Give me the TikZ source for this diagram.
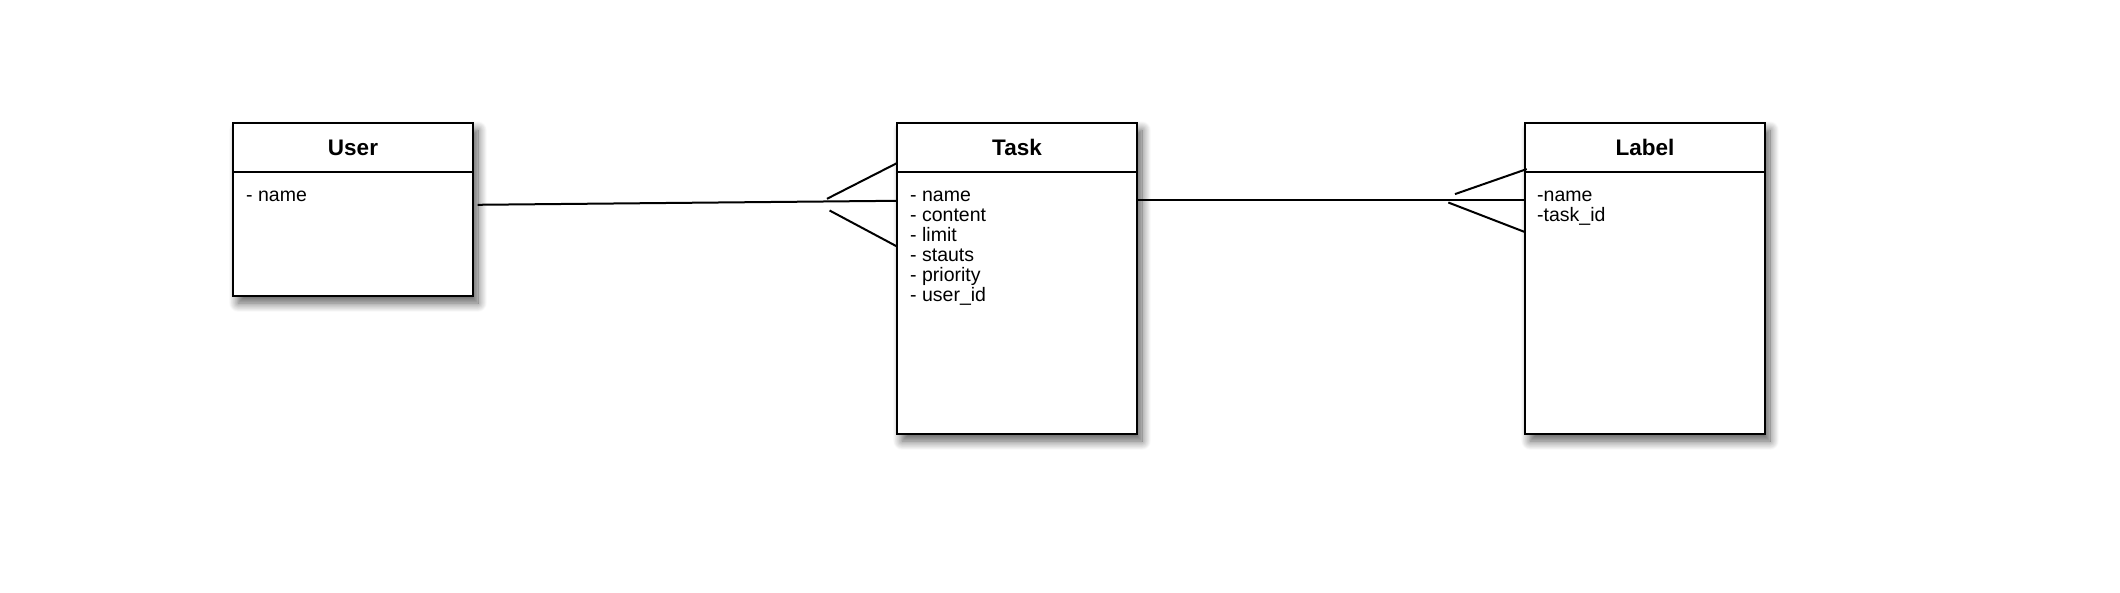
\documentclass[tikz,border=0pt]{standalone}
\usepackage{fontspec}
\setmainfont{Liberation Sans}
\usetikzlibrary{positioning, shadows.blur}

\tikzset{
    entity/.style={draw, line width=2pt, fill=white, minimum width=240pt, inner sep=0pt, outer sep=0pt,
        blur shadow={shadow xshift=5pt, shadow yshift=-7pt, shadow blur radius=9pt, shadow blur steps=14, shadow opacity=65}},
    head/.style={minimum width=240pt, minimum height=49pt, inner sep=0pt, outer sep=0pt,
        font=\fontsize{22.5}{27}\selectfont\bfseries},
    attr/.style={anchor=base west, inner sep=0pt, font=\fontsize{19.5}{20}\selectfont},
    rel/.style={line width=2pt},
}

\begin{document}
\begin{tikzpicture}[x=1pt, y=1pt]
    \useasboundingbox (0,0) rectangle (2120,592);
    \node[entity, minimum height=173pt] (user) at (353,382.4) {};
    \node[entity, minimum height=311pt, right=424pt of user.north east, anchor=north west] (task) {};
    \node[entity, minimum height=311pt, right=388pt of task.north east, anchor=north west] (label) {};
    \node[head, below=0pt of user.north] (user-head) {User};
    \node[head, below=0pt of task.north] (task-head) {Task};
    \node[head, below=0pt of label.north] (label-head) {Label};
    \foreach \e in {user, task, label}
        \draw[line width=2pt] (\e-head.south west) -- (\e-head.south east);
    \foreach \a [count=\i] in {- name}
        \node[attr] (user-a\i) at ([shift={(13,-29.4-20*(\i-1))}]user-head.south west) {\a};
    \foreach \a [count=\i] in {- name, - content, - limit, - stauts, - priority, - user\_id}
        \node[attr] (task-a\i) at ([shift={(13,-29.4-20*(\i-1))}]task-head.south west) {\a};
    \foreach \a [count=\i] in {-name, -task\_id}
        \node[attr] (label-a\i) at ([shift={(12,-29.4-20*(\i-1))}]label-head.south west) {\a};
    \draw[rel] ([shift={(4.6,-81.7)}]user.north east) -- ([shift={(0,-77.7)}]task.north west);
    \draw[rel] ([shift={(-70,-75.7)}]task.north west) -- ([shift={(0,-40)}]task.north west);
    \draw[rel] ([shift={(-67.4,-87.4)}]task.north west) -- ([shift={(0,-123.4)}]task.north west);
    \draw[rel] ([shift={(0,-77)}]task.north east) -- ([shift={(0,-77)}]label.north west);
    \draw[rel] ([shift={(-70,-71)}]label.north west) -- ([shift={(1.7,-46)}]label.north west);
    \draw[rel] ([shift={(-76.7,-79.4)}]label.north west) -- ([shift={(0,-109)}]label.north west);
\end{tikzpicture}
\end{document}
